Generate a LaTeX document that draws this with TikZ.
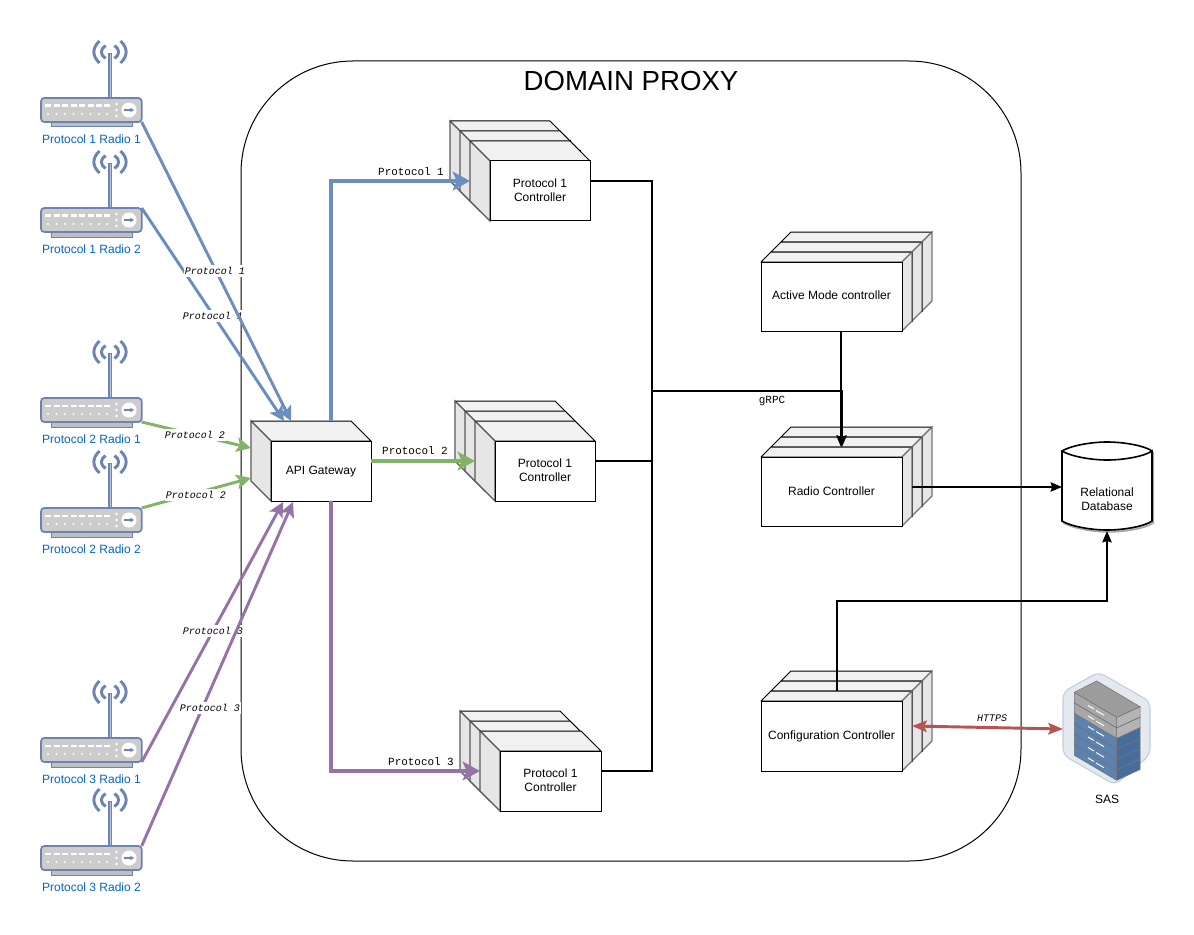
\documentclass[tikz,border=0pt]{standalone}
\usepackage{fontspec}
\setmainfont{Liberation Sans}
\setmonofont{Liberation Mono}
\usetikzlibrary{arrows.meta,calc}
\definecolor{pblue}{HTML}{6C8EBF}
\definecolor{pgreen}{HTML}{82B366}
\definecolor{ppurple}{HTML}{9673A6}
\definecolor{pred}{HTML}{B85450}
\definecolor{rblue}{HTML}{6C84B4}
\definecolor{lblue}{HTML}{0066CC}
\definecolor{ftop}{HTML}{F1F1F1}
\definecolor{fside}{HTML}{E6E6E6}
\definecolor{btop}{HTML}{4F76A8}
\definecolor{bleft}{HTML}{5C82B0}
\definecolor{bright}{HTML}{476D9E}
\definecolor{gtop}{HTML}{9C9C9C}
\definecolor{gleft}{HTML}{A8A8A8}
\definecolor{gright}{HTML}{B4B4B4}
\definecolor{hexfill}{HTML}{E4E9F0}
\definecolor{hexline}{HTML}{BDCFDF}
\tikzset{
  face/.style={draw=black,line width=.75pt,line join=round},
  topface/.style={face,fill=ftop},
  sideface/.style={draw=black!55,line width=1pt,fill=fside},
  lsideface/.style={draw=black!65,line width=.9pt,fill=fside},
  frontbox/.style={draw=black,line width=.75pt,fill=white},
  cubetext/.style={inner sep=0pt,outer sep=0pt,align=center,font=\fontsize{9}{10.5}\selectfont},
  radiobody/.style={draw=rblue,line width=1.3pt,fill=black!20,rounded corners=2.5pt,minimum width=75.5pt,minimum height=18pt,inner sep=0pt,outer sep=0pt},
  radiolabel/.style={text=lblue,font=\fontsize{9}{10}\selectfont,inner sep=0pt},
  monolabel/.style={font=\ttfamily\fontsize{8.2}{9}\selectfont,inner sep=0pt},
  itlabel/.style={font=\ttfamily\itshape\fontsize{7.5}{9}\selectfont,fill=white,inner xsep=.6pt,inner ysep=1.5pt},
  wave/.style={draw=rblue,line width=2.2pt},
  thin link/.style={line width=2.2pt,-{Stealth[length=11pt,width=11pt,inset=2.5pt]}},
  fat link/.style={line width=3pt,-{Stealth[length=13pt,width=14pt,inset=3pt]}},
  black link/.style={draw=black,line width=1.5pt},
  black arrow/.style={black link,-{Stealth[length=8.5pt,width=7pt,inset=1pt]}},
}
% left-facing cube layer (depth 20), x y w h
\newcommand{\lcubelayer}[4]{%
  \begin{scope}[shift={(#1,#2)}]
    \path[topface] (-20,-20) -- (#3-20,-20) -- (#3,0) -- (0,0) -- cycle;
    \path[lsideface] (-20,-20) -- (0,0) -- (0,#4) -- (-20,#4-20) -- cycle;
    \path[frontbox] (0,0) rectangle (#3,#4);
  \end{scope}}
% right-facing cube layer (depth 10)
\newcommand{\rcubelayer}[4]{%
  \begin{scope}[shift={(#1,#2)}]
    \path[topface] (0,0) -- (10,-10) -- (#3+10,-10) -- (#3,0) -- cycle;
    \path[sideface] (#3,0) -- (#3+10,-10) -- (#3+10,#4-10) -- (#3,#4) -- cycle;
    \path[frontbox] (0,0) rectangle (#3,#4);
  \end{scope}}
\newcommand{\radio}[3]{% name, top of body, label
  \begin{scope}[shift={(41,#2)}]
    \path[fill=black!25,draw=rblue,line width=.75pt] (10,24) rectangle (91,29);
    \node[radiobody,anchor=north west] (#1) at (0,0) {};
    \draw[rblue,line width=2.4pt] (69,0) -- (69,-45);
    \draw[rblue!45!white,line width=.6pt] (69,-1) -- (69,-44);
    \begin{scope}[shift={(69,-46)}]
      \path[wave] (-10.5,-11) .. controls (-18,-4) and (-18,4) .. (-10.5,11);
      \path[wave] (-4.5,-6.5) .. controls (-10,-2.5) and (-10,2.5) .. (-4.5,6.5);
      \path[wave] (10.5,-11) .. controls (18,-4) and (18,4) .. (10.5,11);
      \path[wave] (4.5,-6.5) .. controls (10,-2.5) and (10,2.5) .. (4.5,6.5);
    \end{scope}
    \foreach \c in {4,12.5,21,29.5,38,46.5,55,63}{
      \fill[white] (\c,6.5) rectangle ++(6,2.5);
      \fill[white] (\c+3,16) circle (1.2);
    }
    \foreach \c in {7,13,19}{\fill[white] (75.5,\c-1) circle (1.3);}
    \fill[white] (88,12) circle (7.5);
    \draw[rblue,line width=1pt,-{Stealth[length=3pt,width=3.5pt]}] (83,12) -- (93,12);
    \node[radiolabel] (#1L) at (50.5,41) {#3};
  \end{scope}}
% one server slab: dy, top, left, right colours
\newcommand{\slab}[4]{%
  \begin{scope}[shift={(0,#1)}]
    \path[fill=#4,draw=black!55,line width=.4pt] (1116.7,717.3) -- (1140,706.7) -- (1140,717) -- (1116.7,727.8) -- cycle;
    \path[fill=#3,draw=black!55,line width=.4pt] (1074.3,692.3) -- (1116.7,717.3) -- (1116.7,727.8) -- (1074.3,702.8) -- cycle;
    \path[fill=#2,draw=black!55,line width=.4pt] (1074.3,692.3) -- (1096.7,681) -- (1140,706.7) -- (1116.7,717.3) -- cycle;
    \draw[white,line width=.7pt] (1088,705.5) -- (1094,709);
    \draw[white,line width=.7pt] (1096,710.5) -- (1104,715.2);
  \end{scope}}
\begin{document}
\begin{tikzpicture}[x=.75pt,y=-.75pt]
\useasboundingbox (0,0) rectangle (1194,934);
\fill[white] (0,0) rectangle (1194,934);
% domain
\node[draw=black,line width=.75pt,rounded corners=84pt,minimum width=585pt,minimum height=600pt,inner sep=0pt,outer sep=0pt] (domain) at (631,461) {};
\node[font=\fontsize{20.7}{24}\selectfont,inner sep=0pt] (title) at (631,81) {DOMAIN PROXY};
% radios
\radio{ra}{98}{Protocol 1 Radio 1}
\radio{rb}{208}{Protocol 1 Radio 2}
\radio{rc}{398}{Protocol 2 Radio 1}
\radio{rd}{508}{Protocol 2 Radio 2}
\radio{re}{738}{Protocol 3 Radio 1}
\radio{rf}{846}{Protocol 3 Radio 2}
% api gateway
\lcubelayer{271}{441}{100}{60}
\node[cubetext] (api) at (321,471.5) {API Gateway};
% protocol controllers
\lcubelayer{470}{141}{100}{60}
\lcubelayer{480}{151}{100}{60}
\lcubelayer{490}{161}{100}{60}
\node[cubetext] (pa) at (540,190) {Protocol 1\\Controller};
\lcubelayer{475}{421}{100}{60}
\lcubelayer{485}{431}{100}{60}
\lcubelayer{495}{441}{100}{60}
\node[cubetext] (pb) at (545,470) {Protocol 1\\Controller};
\lcubelayer{480}{731}{100}{60}
\lcubelayer{490}{741}{100}{60}
\lcubelayer{500}{751}{101}{60}
\node[cubetext] (pc) at (550.5,780) {Protocol 1\\Controller};
% right stacks
\rcubelayer{781}{242}{141}{69}
\rcubelayer{771}{252}{141}{69}
\rcubelayer{761}{262}{141}{69}
\node[cubetext] (am) at (831.5,295.5) {Active Mode controller};
\rcubelayer{781}{437}{141}{69}
\rcubelayer{771}{447}{141}{69}
\rcubelayer{761}{457}{141}{69}
\node[cubetext] (rc1) at (831.5,491.5) {Radio Controller};
\rcubelayer{781}{681}{141}{70}
\rcubelayer{771}{691}{141}{70}
\rcubelayer{761}{701}{141}{70}
\node[cubetext] (cc) at (831.5,736) {Configuration Controller};
% database
\begin{scope}[shift={(1.5,2)}]
  \path[fill=black!25,draw=black!35,line width=1pt] (1062,451) -- (1062,521) .. controls (1070,526) and (1090,530) .. (1107,530) .. controls (1125,530) and (1145,526) .. (1152,521) -- (1152,451) .. controls (1145,446) and (1125,442) .. (1107,442) .. controls (1090,442) and (1070,446) .. (1062,451) -- cycle;
\end{scope}
\path[fill=white] (1062,451) .. controls (1070,446) and (1090,442) .. (1107,442) .. controls (1125,442) and (1145,446) .. (1152,451) -- (1152,521) .. controls (1145,526) and (1125,530) .. (1107,530) .. controls (1090,530) and (1070,526) .. (1062,521) -- cycle;
\path[draw=black,line width=1.2pt] (1062,451) -- (1062,521) .. controls (1070,526) and (1090,530) .. (1107,530) .. controls (1125,530) and (1145,526) .. (1152,521) -- (1152,451) .. controls (1145,456) and (1125,460) .. (1107,460) .. controls (1090,460) and (1070,456) .. (1062,451) .. controls (1070,446) and (1090,442) .. (1107,442) .. controls (1125,442) and (1145,446) .. (1152,451);
\node[inner sep=0pt,outer sep=0pt,minimum width=67.5pt,minimum height=48pt,align=center,font=\fontsize{9}{10.8}\selectfont] (db) at (1107,499) {Relational\\Database};
% SAS
\path[fill=hexfill,draw=hexline,line width=.8pt,rounded corners=5pt] (1098.5,672) -- (1150,701.5) -- (1150,755) -- (1115,785) -- (1063,755) -- (1063,692) -- cycle;
\slab{52.5}{btop}{bleft}{bright}
\slab{42}{btop}{bleft}{bright}
\slab{31.5}{btop}{bleft}{bright}
\slab{21}{btop}{bleft}{bright}
\slab{10.5}{gtop}{gleft}{gright}
\slab{0}{gtop}{gleft}{gright}
\node[inner sep=0pt,font=\fontsize{9}{10}\selectfont] (saslabel) at (1107,799) {SAS};
\coordinate (sasW) at (1063,729);
% anchors on cubes
\coordinate (apiE) at (371,461);
\coordinate (apiTa) at (291,421);
\coordinate (apiTb) at (284,421);
\coordinate (apiT) at (331,421);
\coordinate (apiLa) at (251,448);
\coordinate (apiLb) at (251,478);
\coordinate (apiBa) at (283,502);
\coordinate (apiBb) at (293,502);
\coordinate (apiB) at (331,501);
\coordinate (paIn) at (470,181);
\coordinate (paOut) at (590,181);
\coordinate (pbIn) at (475,461);
\coordinate (pbOut) at (595,461);
\coordinate (pcIn) at (480,771);
\coordinate (pcOut) at (601,771);
\coordinate (busTop) at (652,181);
\coordinate (busMid) at (652,391);
\coordinate (busPb) at (652,461);
\coordinate (busBot) at (652,771);
\coordinate (rcIn) at (842,447);
\coordinate (amOut) at (841,331);
\coordinate (amIn) at (841,447);
\coordinate (rcOut) at (912,487);
\coordinate (ccUp) at (837,691);
\coordinate (ccE) at (912,726);
% radio links
\draw[thin link,pblue] (rb.north east) -- (apiTb);
\node[itlabel] (l2) at (213,316) {Protocol 1};
\draw[thin link,pblue] (ra.south east) -- (apiTa);
\node[itlabel] (l1) at (215,271) {Protocol 1};
\draw[thin link,pgreen] (rc.south east) -- (apiLa);
\node[itlabel] (l3) at (195,435) {Protocol 2};
\draw[thin link,pgreen] (rd.north east) -- (apiLb);
\node[itlabel] (l4) at (196,495) {Protocol 2};
\draw[thin link,ppurple] (re.south east) -- (apiBa);
\node[itlabel] (l5) at (213,631) {Protocol 3};
\draw[thin link,ppurple] (rf.north east) -- (apiBb);
\node[itlabel] (l6) at (210,708) {Protocol 3};
% protocol links
\draw[fat link,pblue] (apiT) -- (apiT |- paIn) -- (paIn);
\draw[fat link,pgreen] (apiE) -- (pbIn);
\draw[fat link,ppurple] (apiB) -- (apiB |- pcIn) -- (pcIn);
\node[monolabel] (t1) at (411,172) {Protocol 1};
\node[monolabel] (t2) at (415,451) {Protocol 2};
\node[monolabel] (t3) at (421,762) {Protocol 3};
% black links
\draw[black link] (paOut) -- (busTop) -- (busBot) -- (pcOut);
\draw[black link] (pbOut) -- (busPb);
\draw[black arrow,line width=2pt] (busMid) -- (busMid -| rcIn) -- (rcIn);
\draw[black arrow] (amOut) -- (amIn);
\draw[black arrow] (rcOut) -- (rcOut -| db.west);
\draw[black arrow] (ccUp) -- (ccUp |- 0,601) -- (1107,601) -- (db.south);
\draw[line width=2.2pt,pred,{Stealth[length=11pt,width=8.5pt,inset=2pt]}-{Stealth[length=11pt,width=8.5pt,inset=2pt]}] (ccE) -- (sasW);
\node[monolabel] (grpc) at (772,401) {gRPC};
\node[itlabel,fill=none] (https) at (992,718) {HTTPS};
\end{tikzpicture}
\end{document}
